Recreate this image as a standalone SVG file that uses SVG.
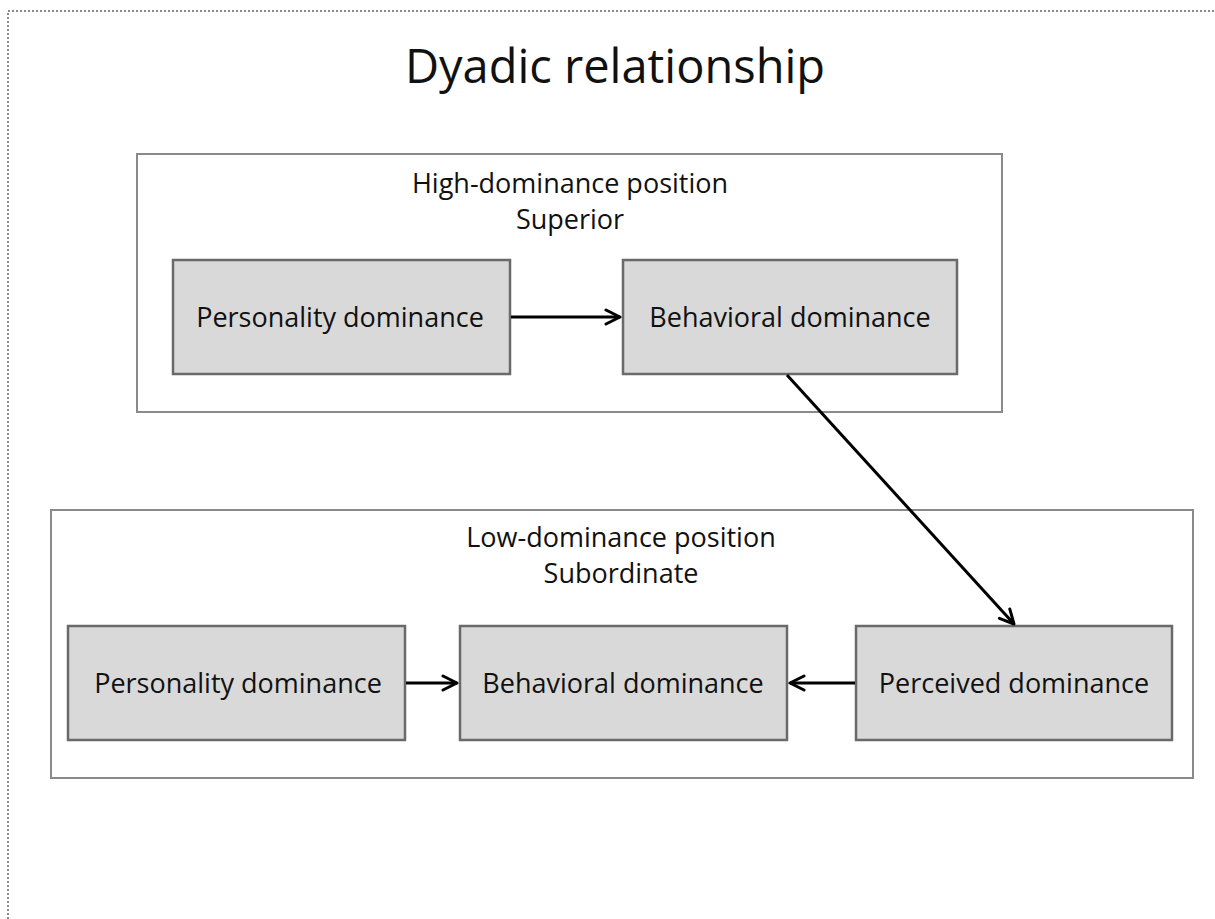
<svg xmlns="http://www.w3.org/2000/svg" width="1215" height="919" viewBox="0 0 1215 919">
  <defs>
    <style>
      .node rect { fill: #d9d9d9; stroke: #6a6a6a; stroke-width: 2.5; }
      .grp rect { fill: #ffffff; stroke: #8a8a8a; stroke-width: 2; }
      text { font-family: "Open Sans", "Liberation Sans", sans-serif; fill: #111; text-anchor: middle; }
      .lbl { font-size: 27px; }
      .title { font-size: 47px; }
      .edge { stroke: #000; stroke-width: 3; fill: none; marker-end: url(#arr); }
    </style>
    <marker id="arr" viewBox="0 0 18 18" refX="16" refY="9" markerWidth="18" markerHeight="18" markerUnits="userSpaceOnUse" orient="auto">
      <path d="M2,2 L16,9 L2,16" fill="none" stroke="#000" stroke-width="3" stroke-linecap="round" stroke-linejoin="round"/>
    </marker>
  </defs>
  <rect width="1215" height="919" fill="#fff"/>
  <!-- dotted page border on left and top -->
  <path d="M8,919 L8,11 L1215,11" fill="none" stroke="#8a8a8a" stroke-width="2" stroke-dasharray="2,2"/>

  <text class="title" x="615" y="83">Dyadic relationship</text>

  <g id="high-position" class="grp">
    <rect x="137" y="154" width="865" height="258"/>
    <text class="lbl" x="570" y="193">High-dominance position</text>
    <text class="lbl" x="570" y="229">Superior</text>
  </g>
  <g id="low-position" class="grp">
    <rect x="51" y="510" width="1142" height="268"/>
    <text class="lbl" x="621" y="547">Low-dominance position</text>
    <text class="lbl" x="621" y="583">Subordinate</text>
  </g>

  <g id="sup-personality" class="node">
    <rect x="173" y="260" width="337" height="114"/>
    <text class="lbl" x="340" y="327">Personality dominance</text>
  </g>
  <g id="sup-behavioral" class="node">
    <rect x="623" y="260" width="334" height="114"/>
    <text class="lbl" x="790" y="327">Behavioral dominance</text>
  </g>
  <g id="sub-personality" class="node">
    <rect x="68" y="626" width="337" height="114"/>
    <text class="lbl" x="238" y="693">Personality dominance</text>
  </g>
  <g id="sub-behavioral" class="node">
    <rect x="460" y="626" width="327" height="114"/>
    <text class="lbl" x="623" y="693">Behavioral dominance</text>
  </g>
  <g id="sub-perceived" class="node">
    <rect x="856" y="626" width="316" height="114"/>
    <text class="lbl" x="1014" y="693">Perceived dominance</text>
  </g>

  <g id="connectors">
    <line class="edge" x1="511" y1="317" x2="620" y2="317"/>
    <line class="edge" x1="787" y1="375" x2="1014" y2="624"/>
    <line class="edge" x1="406" y1="683" x2="457" y2="683"/>
    <line class="edge" x1="855" y1="683" x2="790" y2="683"/>
  </g>
</svg>
